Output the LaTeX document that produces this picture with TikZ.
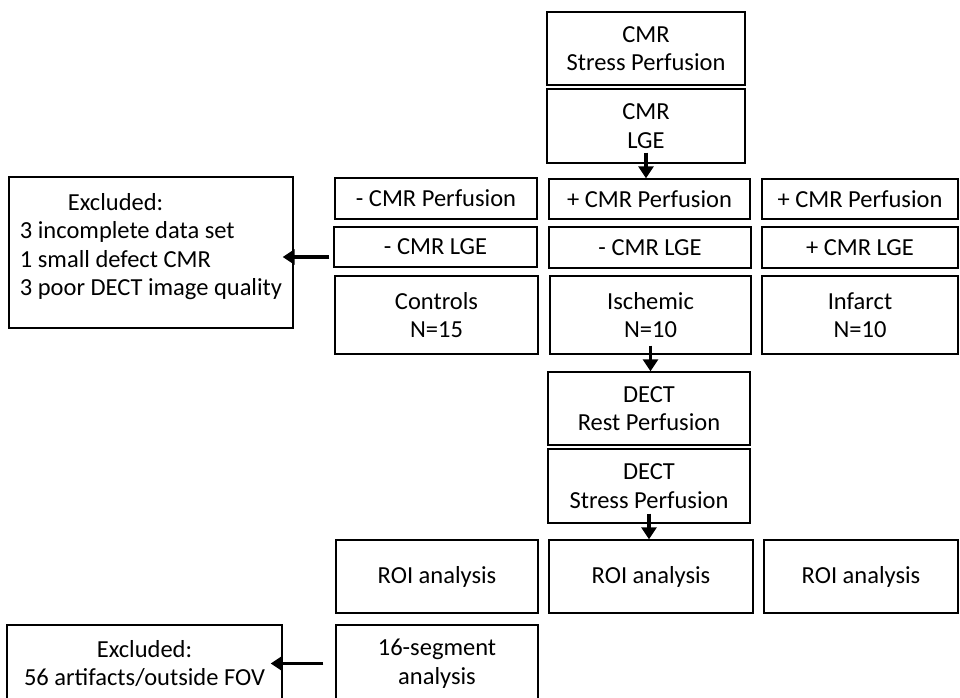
\documentclass[tikz,border=0pt]{standalone}
\usepackage{fontspec}
\setmainfont{Carlito}
\usetikzlibrary{arrows.meta}

\begin{document}
\begin{tikzpicture}[x=1pt,y=-1pt,
    box/.style={draw,line width=1.4pt,inner sep=0pt,align=center,font=\fontsize{24.5}{28.5}\selectfont},
    arr/.style={line width=3.5pt,-{Triangle[length=12pt,width=15pt]}}]
    \clip (0,0) rectangle (960,697);

    % CMR
    \node[box,minimum width=198pt,minimum height=73pt] (cmrstress) at (646,48.5) {CMR\\Stress Perfusion};
    \node[box,minimum width=198pt,minimum height=74pt] (cmrlge) at (646,126) {CMR\\LGE};

    % CMR results
    \node[box,minimum width=202pt,minimum height=41pt] (perfneg) at (436,198.5) {- CMR Perfusion};
    \node[box,minimum width=201pt,minimum height=40pt] (perfpos) at (649.5,199) {+ CMR Perfusion};
    \node[box,minimum width=196pt,minimum height=40pt] (perfposb) at (860,199) {+ CMR Perfusion};
    \node[box,minimum width=203pt,minimum height=40pt] (lgeneg) at (435.5,247) {- CMR LGE};
    \node[box,minimum width=202pt,minimum height=41pt] (lgenegb) at (650,247.5) {- CMR LGE};
    \node[box,minimum width=196pt,minimum height=41pt] (lgepos) at (860,247.5) {+ CMR LGE};

    % groups
    \node[box,minimum width=203pt,minimum height=78pt] (controls) at (436.5,315) {Controls\\N=15};
    \node[box,minimum width=201pt,minimum height=78pt] (ischemic) at (650.5,315) {Ischemic\\N=10};
    \node[box,minimum width=196pt,minimum height=78pt] (infarct) at (860,315) {Infarct\\N=10};

    % DECT
    \node[box,minimum width=202pt,minimum height=73pt] (dectrest) at (649,408.5) {DECT\\Rest Perfusion};
    \node[box,minimum width=202pt,minimum height=74pt] (dectstress) at (649,486) {DECT\\Stress Perfusion};

    % analysis
    \node[box,minimum width=202pt,minimum height=73pt] (roia) at (437,576.5) {ROI analysis};
    \node[box,minimum width=204pt,minimum height=73pt] (roib) at (651,576.5) {ROI analysis};
    \node[box,minimum width=194pt,minimum height=73pt] (roic) at (861,576.5) {ROI analysis};
    \node[box,minimum width=202pt,minimum height=77pt] (segment) at (437,663.5) {16-segment\\analysis};

    % excluded
    \node[box,align=left,minimum width=284pt,minimum height=151pt] (exclpat) at (151,252.5)
        {\hspace*{48pt}Excluded:\\3 incomplete data set\\1 small defect CMR\\3 poor DECT image quality\\[-12pt]\mbox{}};
    \node[box,minimum width=275pt,minimum height=77pt] (exclseg) at (144.5,663.5) {Excluded:\\56 artifacts/outside FOV};

    % arrows
    \draw[arr] ([yshift=11pt]cmrlge.south) -- (cmrlge.south |- perfpos.north);
    \draw[arr] ([yshift=9pt]ischemic.south) -- (ischemic.south |- dectrest.north);
    \draw[arr] ([yshift=10pt]dectstress.south) -- (dectstress.south |- roib.north);
    \draw[arr] ([xshift=-4pt,yshift=-10pt]lgeneg.west) -- ([xshift=-11pt,yshift=-10pt]lgeneg.west -| exclpat.east);
    \draw[arr] ([xshift=-12pt]segment.west) -- ([xshift=-12pt]segment.west -| exclseg.east);
\end{tikzpicture}
\end{document}
